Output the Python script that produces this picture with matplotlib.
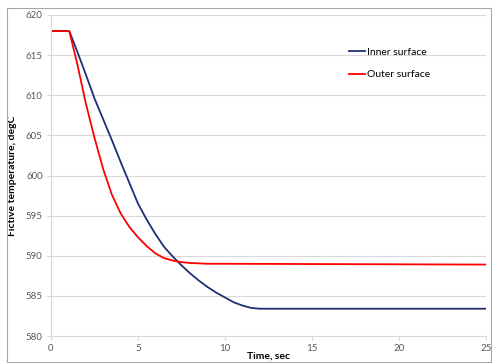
import matplotlib.pyplot as plt
from matplotlib.patches import Rectangle

plt.rcParams['font.family'] = ['Lato', 'DejaVu Sans']

# values
time_inner = [0, 1.05, 1.5, 2.0, 2.5, 3.0, 3.5, 4.0, 4.5, 5.0, 5.5, 6.0, 6.5,
              7.0, 7.5, 8.0, 8.5, 9.0, 9.5, 10.0, 10.5, 11.0, 11.5, 12.0, 13.0, 25.0]
inner = [618, 618, 615.5, 612.6, 609.6, 607.0, 604.4, 601.7, 599.1, 596.5, 594.5,
         592.7, 591.1, 589.9, 588.8, 587.8, 586.9, 586.1, 585.4, 584.8, 584.2,
         583.8, 583.5, 583.4, 583.4, 583.4]

time_outer = [0, 1.05, 1.5, 2.0, 2.5, 3.0, 3.5, 4.0, 4.5, 5.0, 5.5, 6.0, 6.5,
              7.0, 7.5, 8.0, 9.0, 10.0, 25.0]
outer = [618, 618, 614.0, 609.0, 604.7, 600.8, 597.6, 595.3, 593.6, 592.3, 591.2,
         590.3, 589.7, 589.4, 589.2, 589.1, 589.0, 589.0, 588.9]

xticks = [0, 5, 10, 15, 20, 25]
yticks = [580, 585, 590, 595, 600, 605, 610, 615, 620]

fig = plt.figure(figsize=(4.92, 3.63), dpi=100)
fig.patches.append(Rectangle((7 / 492, 1 / 363), 484 / 492, 354 / 363,
                             transform=fig.transFigure, fill=False,
                             edgecolor='#A6A6A6', linewidth=0.8))
ax = fig.add_axes([51 / 492, 1 - 336 / 363, 435 / 492, 321 / 363])

ax.plot(time_inner, inner, color='#1F2F75', lw=1.3, label='Inner surface')
ax.plot(time_outer, outer, color='#FF0000', lw=1.3, label='Outer surface')

ax.set_xlim(0, 25)
ax.set_ylim(580, 620)
ax.set_xticks(xticks)
ax.set_yticks(yticks)
ax.grid(axis='y', color='#D9D9D9', lw=0.8)
ax.set_axisbelow(True)
for s in ['top', 'right']:
    ax.spines[s].set_visible(False)
for s in ['left', 'bottom']:
    ax.spines[s].set_color('#D9D9D9')
    ax.spines[s].set_linewidth(0.8)
ax.tick_params(colors='#595959', labelsize=7, length=3, width=0.8,
               color='#D9D9D9', pad=3)

ax.set_xlabel('Time, sec', fontsize=7.5, fontweight='bold', labelpad=-1)
ax.set_ylabel('Fictive temperature, degC', fontsize=7.5, fontweight='bold', labelpad=6)

ax.legend(loc='upper left', bbox_to_anchor=(340 / 492, 1 - 38 / 363),
          bbox_transform=fig.transFigure, frameon=False, fontsize=7.5,
          handlelength=1.5, handletextpad=0.2, labelspacing=1.3)

fig.savefig('out.png', dpi=100)
